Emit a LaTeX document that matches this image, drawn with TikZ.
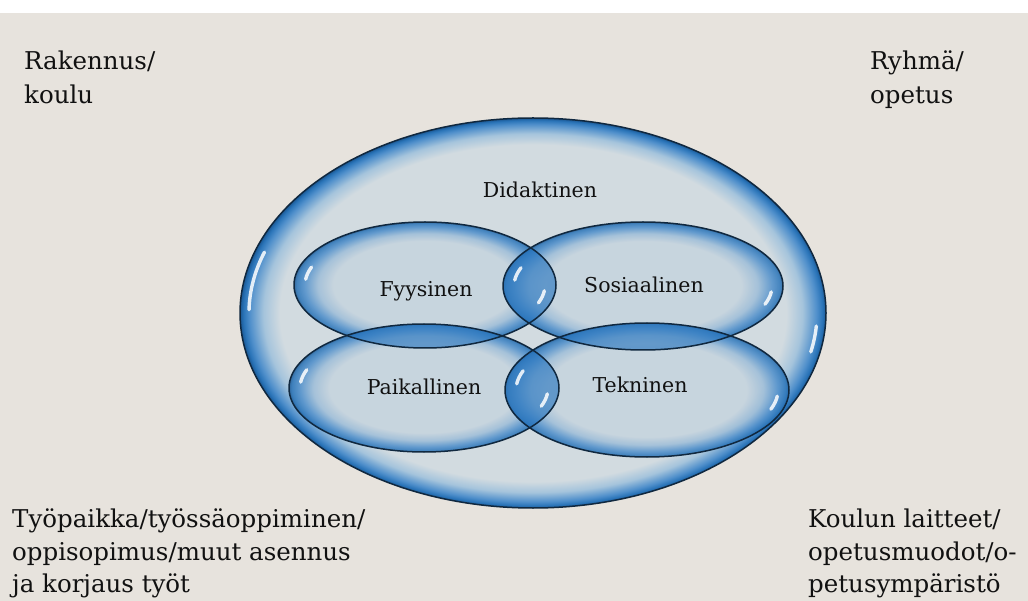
\documentclass[tikz,border=0pt]{standalone}
\usepackage{fontspec}
\setmainfont{DejaVu Serif}
\usetikzlibrary{shapes.geometric}
\definecolor{bgc}{HTML}{E7E3DD}
\definecolor{oin}{HTML}{D2DBE0}
\definecolor{omid}{HTML}{A5C4DC}
\definecolor{bin}{HTML}{C6D4DE}
\definecolor{bmid}{HTML}{9DBDD8}
\definecolor{bmidb}{HTML}{4F8FCB}
\definecolor{bblue}{HTML}{2A74B8}
\definecolor{bdark}{HTML}{1B5894}
\definecolor{lensc}{HTML}{2C78C0}
\definecolor{outl}{HTML}{10283F}
\definecolor{txt}{HTML}{111111}
\pgfdeclareradialshading{bigbubble}{\pgfpoint{0bp}{0bp}}{color(0bp)=(oin); color(21.6bp)=(oin); color(23bp)=(omid); color(24.2bp)=(bmidb); color(24.7bp)=(bblue); color(25bp)=(bdark); color(50bp)=(bdark)}
\pgfdeclareradialshading{bubble}{\pgfpoint{0bp}{0bp}}{color(0bp)=(bin); color(17.5bp)=(bin); color(20.5bp)=(bmid); color(23bp)=(bmidb); color(24.5bp)=(bblue); color(25bp)=(bdark); color(50bp)=(bdark)}
\begin{document}
\begin{tikzpicture}[x=1pt,y=-1pt,
  bigbub/.style={ellipse, inner sep=0pt, outer sep=0pt, shade, shading=bigbubble},
  bub/.style={ellipse, inner sep=0pt, outer sep=0pt, shade, shading=bubble, fill opacity=0.85},
  lens/.style={fill=lensc, fill opacity=0.6},
  rim/.style={draw=outl, line width=1.5pt},
  hl/.style={draw=white, line width=3.4pt, line cap=round, draw opacity=0.85},
  inlabel/.style={anchor=base, inner sep=0pt, text=txt, font=\fontsize{20.5}{24}\selectfont},
  corner/.style={anchor=base west, inner sep=0pt, text=txt, font=\fontsize{24.5}{30}\selectfont}]
\useasboundingbox (0,0) rectangle (1028,601);
\fill[white] (0,0) rectangle (1028,13);
\fill[bgc] (0,13) rectangle (1028,601);

% outer ellipse
\node[bigbub, minimum width=586pt, minimum height=390pt] (did) at (533,313) {};
\draw[rim] (did.center) ellipse [x radius=293, y radius=195];

% inner ellipses
\node[bub, minimum width=262pt, minimum height=126pt] (fyy) at (425,285) {};
\node[bub, minimum width=280pt, minimum height=128pt] (sos) at (643,286) {};
\node[bub, minimum width=270pt, minimum height=128pt] (pai) at (424,388) {};
\node[bub, minimum width=284pt, minimum height=134pt] (tek) at (647,390) {};

% overlaps
\begin{scope}
  \clip (fyy.center) ellipse [x radius=131, y radius=63];
  \fill[lens] (sos.center) ellipse [x radius=140, y radius=64];
  \fill[lens] (pai.center) ellipse [x radius=135, y radius=64];
\end{scope}
\begin{scope}
  \clip (tek.center) ellipse [x radius=142, y radius=67];
  \fill[lens] (sos.center) ellipse [x radius=140, y radius=64];
  \fill[lens] (pai.center) ellipse [x radius=135, y radius=64];
\end{scope}

\draw[rim] (fyy.center) ellipse [x radius=131, y radius=63];
\draw[rim] (sos.center) ellipse [x radius=140, y radius=64];
\draw[rim] (pai.center) ellipse [x radius=135, y radius=64];
\draw[rim] (tek.center) ellipse [x radius=142, y radius=67];

% highlights
\begin{scope}[shift={(did.center)}]
  \draw[hl] (199:284 and 187) arc[start angle=199, end angle=181, x radius=284, y radius=187];
  \draw[hl] (4:284 and 187) arc[start angle=4, end angle=12, x radius=284, y radius=187];
\end{scope}
\begin{scope}[shift={(fyy.center)}]
  \draw[hl] (199:120 and 55) arc[start angle=199, end angle=186, x radius=120, y radius=55];
  \draw[hl] (6:120 and 55) arc[start angle=6, end angle=19, x radius=120, y radius=55];
\end{scope}
\begin{scope}[shift={(sos.center)}]
  \draw[hl] (199:129 and 56) arc[start angle=199, end angle=186, x radius=129, y radius=56];
  \draw[hl] (6:129 and 56) arc[start angle=6, end angle=19, x radius=129, y radius=56];
\end{scope}
\begin{scope}[shift={(pai.center)}]
  \draw[hl] (199:124 and 56) arc[start angle=199, end angle=186, x radius=124, y radius=56];
  \draw[hl] (6:124 and 56) arc[start angle=6, end angle=19, x radius=124, y radius=56];
\end{scope}
\begin{scope}[shift={(tek.center)}]
  \draw[hl] (199:131 and 59) arc[start angle=199, end angle=186, x radius=131, y radius=59];
  \draw[hl] (6:131 and 59) arc[start angle=6, end angle=19, x radius=131, y radius=59];
\end{scope}

% inner labels
\node[inlabel] (tdid) at (540,198) {Didaktinen};
\node[inlabel] (tfyy) at (426,297) {Fyysinen};
\node[inlabel] (tsos) at (644,293) {Sosiaalinen};
\node[inlabel] (tpai) at (424,395) {Paikallinen};
\node[inlabel] (ttek) at (640,392) {Tekninen};

% corner labels
\node[corner] (tl1) at (24,70) {Rakennus/};
\node[corner] (tl2) at (24,104) {koulu};
\node[corner] (tr1) at (870,70) {Ryhmä/};
\node[corner] (tr2) at (870,104) {opetus};
\node[corner] (bl1) at (12,527) {Työpaikka/työssäoppiminen/};
\node[corner] (bl2) at (12,560) {oppisopimus/muut asennus};
\node[corner] (bl3) at (12,592) {ja korjaus työt};
\node[corner] (br1) at (808,527) {Koulun laitteet/};
\node[corner] (br2) at (808,560) {opetusmuodot/o-};
\node[corner] (br3) at (808,592) {petusympäristö};
\end{tikzpicture}
\end{document}
